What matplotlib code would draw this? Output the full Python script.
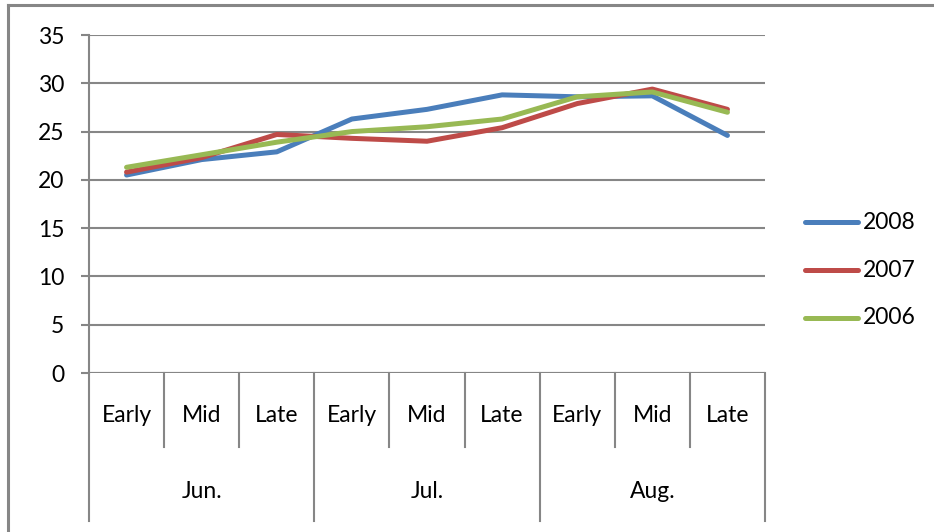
import matplotlib
matplotlib.use("Agg")
import matplotlib.pyplot as plt
from matplotlib.lines import Line2D

plt.rcParams['font.family'] = ['Lato', 'DejaVu Sans']

periods = ["Early", "Mid", "Late"] * 3
months = ["Jun.", "Jul.", "Aug."]
series_names = ["2008", "2007", "2006"]
vals_2008 = [20.5, 22.1, 22.9, 26.3, 27.3, 28.8, 28.6, 28.7, 24.6]
vals_2007 = [20.8, 22.3, 24.7, 24.3, 24.0, 25.4, 27.9, 29.4, 27.3]
vals_2006 = [21.3, 22.6, 23.9, 25.0, 25.5, 26.3, 28.6, 29.1, 27.0]
colors = ["#4A7EBB", "#BE4B48", "#98B954"]
yticks = [0, 5, 10, 15, 20, 25, 30, 35]
FS = 16.5

W, H = 934, 532
fig = plt.figure(figsize=(W / 100, H / 100), dpi=100)

# Outer chart border (left and top edges)
fig.add_artist(Line2D([8 / W, 8 / W], [0, 1 - 5 / H], transform=fig.transFigure,
                      color="#868686", lw=2.2))
fig.add_artist(Line2D([8 / W, 1], [1 - 5 / H, 1 - 5 / H], transform=fig.transFigure,
                      color="#868686", lw=2.2))

x0, x1, ytop, ybot = 89, 765, 35, 373
ax = fig.add_axes([x0 / W, 1 - ybot / H, (x1 - x0) / W, (ybot - ytop) / H])

grid_c = "#868686"
xs = [i + 0.5 for i in range(len(periods))]
for name, vals, c in zip(series_names, [vals_2008, vals_2007, vals_2006], colors):
    ax.plot(xs, vals, color=c, lw=3.6, solid_capstyle="round", solid_joinstyle="round",
            label=name, zorder=3)

ax.set_xlim(0, 9)
ax.set_ylim(0, 35)
ax.set_yticks(yticks)
ax.yaxis.grid(True, color=grid_c, lw=1.5)
ax.set_axisbelow(True)
ax.set_xticks([])
for s in ["top", "right", "bottom"]:
    ax.spines[s].set_visible(False)
ax.spines["left"].set_color(grid_c)
ax.spines["left"].set_linewidth(1.5)
ax.tick_params(axis="y", length=5.8, width=1.5, color=grid_c, pad=12,
               labelsize=FS, labelcolor="black")
ax.axhline(0, color=grid_c, lw=1.5, zorder=2)

# Two-level category axis below the plot
h = ybot - ytop
sub_end = -(447 - ybot) / h
month_end = -(521 - ybot) / h
trans = ax.get_xaxis_transform()
for i in range(10):
    bottom = month_end if i % 3 == 0 else sub_end
    ax.add_line(Line2D([i, i], [0, bottom], transform=trans, color=grid_c,
                       lw=1.5, clip_on=False))
for x, p in zip(xs, periods):
    ax.text(x, -(416 - ybot) / h, p, transform=trans, ha="center", va="center",
            fontsize=FS)
for j, m in enumerate(months):
    ax.text(3 * j + 1.5, -(491 - ybot) / h, m, transform=trans, ha="center",
            va="center", fontsize=FS)

# Legend
for k, (name, c) in enumerate(zip(series_names, colors)):
    yy = 1 - (222 + 48 * k) / H
    fig.add_artist(Line2D([805 / W, 858 / W], [yy, yy], transform=fig.transFigure,
                          color=c, lw=3.6, solid_capstyle="round"))
    fig.text(863 / W, yy, name, ha="left", va="center", fontsize=FS)

fig.savefig("out.png", dpi=100, facecolor="white")
